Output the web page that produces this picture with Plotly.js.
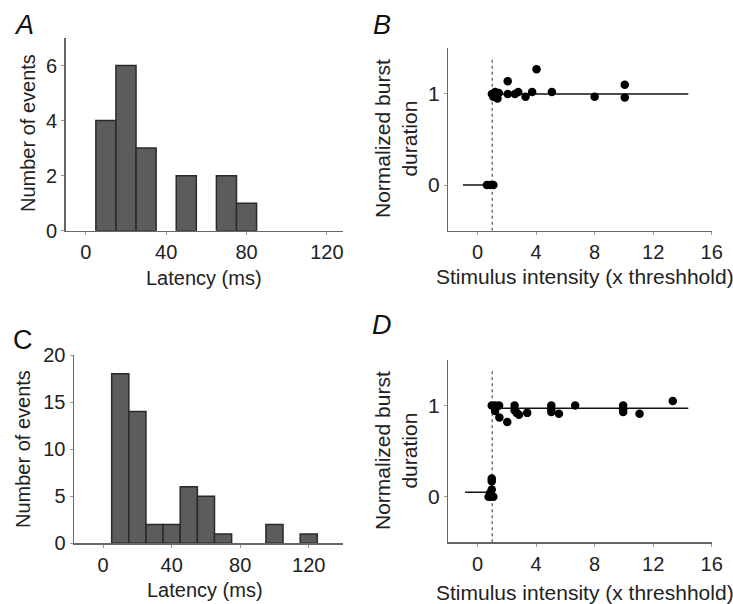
<!DOCTYPE html>
<html>
<head>
<meta charset="utf-8">
<script src="https://cdn.plot.ly/plotly-3.0.1.min.js"></script>
<style>html,body{margin:0;padding:0;background:#fff;}#chart{width:733px;height:604px;}</style>
</head>
<body>
<div id="chart"></div>
<script>
// Panel A histogram (bin centers, counts)
const latencyA = [10, 20, 30, 50, 70, 80];
const countsA = [4, 6, 3, 2, 2, 1];
// Panel C histogram
const latencyC = [10, 20, 30, 40, 50, 60, 70, 100, 120];
const countsC = [18, 14, 2, 2, 6, 5, 1, 2, 1];
// Panel B scatter
const intensityB = [0.64, 0.86, 1.08, 0.98, 1.2, 1.08, 1.36, 1.45, 2.06, 2.06, 2.55, 2.78, 3.28, 3.73, 4.03, 5.08, 8.0, 10.06, 10.06];
const durationB = [0, 0, 0, 1.0, 1.02, 0.97, 0.95, 1.01, 1.14, 1.0, 1.0, 1.02, 0.97, 1.02, 1.27, 1.02, 0.97, 1.1, 0.96];
// Panel B fit lines
const fitLowB_x = [-1, 1];
const fitLowB_y = [0, 0];
const fitHighB_x = [1, 14.4];
const fitHighB_y = [1, 1];
// Panel D scatter
const intensityD = [0.75, 0.86, 1.08, 0.86, 0.97, 0.97, 0.97, 0.97, 1.2, 1.47, 1.2, 1.49, 2.03, 2.53, 2.53, 2.67, 2.83, 3.39, 5.04, 5.04, 5.04, 5.56, 6.67, 9.95, 9.95, 9.95, 11.07, 13.34];
const durationD = [0, 0, 0, 0.04, 0.08, 0.17, 0.2, 1.0, 1.0, 1.0, 0.94, 0.87, 0.82, 1.0, 0.95, 0.92, 0.9, 0.92, 1.0, 0.96, 0.93, 0.91, 1.0, 1.0, 0.96, 0.93, 0.91, 1.05];
const fitLowD_x = [-0.85, 1];
const fitLowD_y = [0.05, 0.05];
const fitHighD_x = [1, 14.4];
const fitHighD_y = [0.97, 0.97];
// Threshold
const threshold = 1;
const dottedTop = 1.4;

const xTicksHist = [0, 40, 80, 120];
const yTicksA = [0, 2, 4, 6];
const yTicksC = [0, 5, 10, 15, 20];
const xTicksScatter = [0, 4, 8, 12, 16];
const yTicksScatter = [0, 1];

const latencyTitle = 'Latency (ms)';
const eventsTitle = 'Number of events';
const intensityTitle = 'Stimulus intensity (x threshhold)';
const durationTitle = 'Normalized burst<br>duration';

const W = 733, H = 604;
const fx = p => p / W;
const fy = p => 1 - p / H;

const font = {family: 'Liberation Sans, Arial, sans-serif', size: 20, color: '#222'};
const fontR = {family: 'Liberation Sans, Arial, sans-serif', size: 21, color: '#222'};
const axisLine = '#666';

const barStyle = {color: '#5c5c5c', line: {color: '#2a2a2a', width: 1.5}};
const mk = {color: '#000', size: 8.5};
const fitLine = {color: '#111', width: 1.5};
const dotLine = {color: '#555', width: 1.2, dash: 'dot'};

const traces = [
  {type: 'bar', x: latencyA, y: countsA, width: 10, marker: barStyle, xaxis: 'x', yaxis: 'y', hoverinfo: 'none'},
  {type: 'scatter', mode: 'lines', x: fitLowB_x, y: fitLowB_y, line: fitLine, xaxis: 'x2', yaxis: 'y2'},
  {type: 'scatter', mode: 'lines', x: fitHighB_x, y: fitHighB_y, line: fitLine, xaxis: 'x2', yaxis: 'y2'},
  {type: 'scatter', mode: 'lines', x: [threshold, threshold], y: [-0.5, dottedTop], line: dotLine, xaxis: 'x2', yaxis: 'y2'},
  {type: 'scatter', mode: 'markers', x: intensityB, y: durationB, marker: mk, xaxis: 'x2', yaxis: 'y2'},
  {type: 'bar', x: latencyC, y: countsC, width: 10, marker: barStyle, xaxis: 'x3', yaxis: 'y3', hoverinfo: 'none'},
  {type: 'scatter', mode: 'lines', x: fitLowD_x, y: fitLowD_y, line: fitLine, xaxis: 'x4', yaxis: 'y4'},
  {type: 'scatter', mode: 'lines', x: fitHighD_x, y: fitHighD_y, line: fitLine, xaxis: 'x4', yaxis: 'y4'},
  {type: 'scatter', mode: 'lines', x: [threshold, threshold], y: [-0.5, dottedTop], line: dotLine, xaxis: 'x4', yaxis: 'y4'},
  {type: 'scatter', mode: 'markers', x: intensityD, y: durationD, marker: mk, xaxis: 'x4', yaxis: 'y4'}
];

function ax(domain, range, ticks, anchor, f) {
  return {
    domain: domain, range: range, tickvals: ticks, ticktext: ticks.map(String),
    showline: true, linecolor: axisLine, linewidth: 1.5, mirror: false,
    showgrid: false, zeroline: false, ticks: 'outside', ticklen: 3, tickcolor: '#999', tickwidth: 1,
    tickfont: f || font, anchor: anchor, fixedrange: true
  };
}

function label(text, px, py, angle, f) {
  return {text: text, x: fx(px), y: fy(py), xref: 'paper', yref: 'paper', xanchor: 'center', yanchor: 'middle',
          showarrow: false, textangle: angle || 0, font: f || font};
}
function letter(text, px, py, italic) {
  const f = {family: font.family, size: 27, color: '#111'};
  if (italic) f.style = 'italic';
  return {text: text, x: fx(px), y: fy(py), xref: 'paper', yref: 'paper', xanchor: 'left', yanchor: 'top', showarrow: false, font: f};
}

const layout = {
  width: W, height: H,
  margin: {l: 0, r: 0, t: 0, b: 0},
  paper_bgcolor: '#fff', plot_bgcolor: '#fff',
  showlegend: false, bargap: 0,
  font: font,
  xaxis: ax([fx(65.7), fx(343)], [-10, 128], xTicksHist, 'y'),
  yaxis: ax([fy(230.7), fy(38)], [0, 7], yTicksA, 'x'),
  xaxis2: ax([fx(448.3), fx(711.7)], [-2, 16], xTicksScatter, 'y2'),
  yaxis2: ax([fy(230.7), fy(48.3)], [-0.5, 1.5], yTicksScatter, 'x2', fontR),
  xaxis3: ax([fx(74), fx(343)], [-17, 140], xTicksHist, 'y3'),
  yaxis3: ax([fy(543.3), fy(355)], [0, 20], yTicksC, 'x3'),
  xaxis4: ax([fx(448.3), fx(711.7)], [-2, 16], xTicksScatter, 'y4'),
  yaxis4: ax([fy(542.3), fy(360)], [-0.5, 1.5], yTicksScatter, 'x4', fontR),
  annotations: [
    label(latencyTitle, 204, 278),
    label(eventsTitle, 28, 133, -90),
    label(intensityTitle, 585, 276, 0, fontR),
    label(durationTitle, 396, 139, -90, fontR),
    label(latencyTitle, 205, 590),
    label(eventsTitle, 23, 449, -90),
    label(intensityTitle, 585, 592, 0, fontR),
    label(durationTitle, 396, 451, -90, fontR),
    letter('A', 12, 8, true),
    letter('B', 371, 8, true),
    letter('C', 11, 323, false),
    letter('D', 370, 308, true)
  ]
};

Plotly.newPlot('chart', traces, layout, {displayModeBar: false, staticPlot: true});
</script>
</body>
</html>
